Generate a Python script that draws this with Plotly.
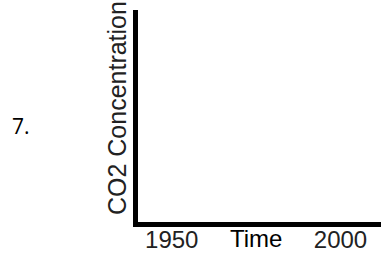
import plotly.graph_objects as go

# Data / labels
tick_years = [1950, 2000]
tick_labels = ["1950", "2000"]
x_title = "Time"
y_title = "CO2 Concentration"
question_label = "7."
x_range = [1940, 2012]

W, H = 381, 253
L, R, T, B = 138, 0, 10, 29
pw = W - L - R
ph = H - T - B

def px_x(px):
    return (px - L) / pw

def px_y(py):
    return (H - B - py) / ph

fig = go.Figure()
fig.add_trace(go.Scatter(x=[], y=[], mode="lines", showlegend=False))

fig.update_layout(
    width=W, height=H,
    margin=dict(l=L, r=R, t=T, b=B, pad=0),
    paper_bgcolor="white", plot_bgcolor="white",
    showlegend=False,
    xaxis=dict(
        range=x_range, showgrid=False, zeroline=False,
        showline=True, linecolor="black", linewidth=5,
        tickmode="array", tickvals=tick_years, ticktext=tick_labels,
        ticks="", ticklabelstandoff=-8,
        tickfont=dict(family="Liberation Sans, Arial", size=24, color="#222"),
        fixedrange=True,
    ),
    yaxis=dict(
        range=[0, 1], showgrid=False, zeroline=False,
        showline=True, linecolor="black", linewidth=5,
        showticklabels=False, ticks="", fixedrange=True,
    ),
    annotations=[
        dict(text=x_title, xref="x", yref="paper", x=sum(tick_years) / 2,
             y=px_y(241), xanchor="center", yanchor="middle", showarrow=False,
             font=dict(family="Liberation Sans, Arial", size=24, color="black")),
        dict(text=y_title, xref="paper", yref="paper", x=px_x(117), y=px_y(109),
             xanchor="center", yanchor="middle", textangle=-90, showarrow=False,
             font=dict(family="Liberation Sans, Arial", size=25, color="#222")),
        dict(text=question_label, xref="paper", yref="paper", x=px_x(21), y=px_y(127),
             xanchor="center", yanchor="middle", showarrow=False,
             font=dict(family="Open Sans", size=21, color="black")),
    ],
)

fig.write_html("out.html", config={"displayModeBar": False},
               post_script="document.body.style.margin='0';")
